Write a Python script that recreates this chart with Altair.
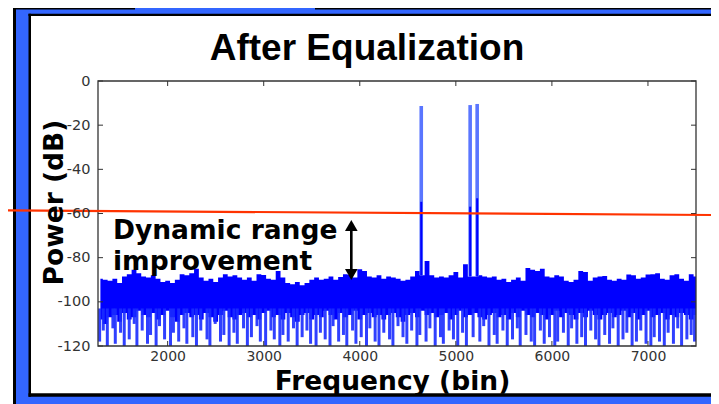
import altair as alt
import pandas as pd

# ---------------- data ----------------
noise_bin = [1300, 1350, 1400, 1450, 1500, 1550, 1600, 1650, 1700, 1750,
             1800, 1850, 1900, 1950, 2000, 2050, 2100, 2150, 2200, 2250,
             2300, 2350, 2400, 2450, 2500, 2550, 2600, 2650, 2700, 2750,
             2800, 2850, 2900, 2950, 3000, 3050, 3100, 3150, 3200, 3250,
             3300, 3350, 3400, 3450, 3500, 3550, 3600, 3650, 3700, 3750,
             3800, 3850, 3900, 3950, 4000, 4050, 4100, 4150, 4200, 4250,
             4300, 4350, 4400, 4450, 4500, 4550, 4600, 4650, 4700, 4750,
             4800, 4850, 4900, 4950, 5000, 5050, 5100, 5150, 5200, 5250,
             5300, 5350, 5400, 5450, 5500, 5550, 5600, 5650, 5700, 5750,
             5800, 5850, 5900, 5950, 6000, 6050, 6100, 6150, 6200, 6250,
             6300, 6350, 6400, 6450, 6500, 6550, 6600, 6650, 6700, 6750,
             6800, 6850, 6900, 6950, 7000, 7050, 7100, 7150, 7200, 7250,
             7300, 7350, 7400, 7450, 7500]
noise_top = [-89.5, -90, -90.5, -89.5, -91.5, -88.5, -87.5, -85.5, -87, -88.5,
             -89, -88, -89.5, -91, -90.5, -91.5, -90, -87.5, -88, -87,
             -85, -89, -90.5, -89.5, -91, -89, -87.5, -88.5, -88, -89,
             -90, -89, -90.5, -87.5, -87.8, -89.5, -90, -86, -89, -91.5,
             -92, -91, -92.5, -91.5, -90, -89, -90, -89.5, -88.5, -90,
             -88.8, -87.5, -87.8, -89, -85.3, -86, -88.5, -89, -88, -89.5,
             -88.5, -89, -89.5, -90.5, -90, -88.5, -86, -88, -81.5, -88,
             -89, -88.5, -89, -88, -86.5, -89, -83, -88.5, -88.5, -88,
             -88.5, -89, -88.5, -90, -89.5, -91, -90, -89, -90.5, -84.7,
             -85.5, -86, -85, -88.5, -89, -88, -88.5, -90.5, -91, -90,
             -86, -86.5, -90.5, -89, -88.5, -88.3, -90, -90.5, -89.5, -90,
             -87.6, -88, -89.5, -89, -87.6, -87.5, -87, -89.5, -90, -88,
             -87.5, -89.5, -90.5, -87.5, -88.5]
noise_low = [-108, -110, -107, -106, -109, -105, -108, -107, -104, -106,
             -107, -105, -108, -106, -104, -107, -109, -106, -105, -107,
             -106, -108, -105, -107, -109, -106, -104, -107, -108, -106,
             -105, -107, -106, -108, -105, -104, -107, -106, -108, -105,
             -107, -109, -106, -105, -108, -106, -107, -104, -106, -108,
             -105, -107, -106, -104, -108, -106, -105, -107, -106, -108,
             -106, -105, -107, -109, -106, -105, -107, -104, -106, -105,
             -107, -106, -105, -108, -106, -104, -107, -106, -105, -107,
             -108, -106, -105, -107, -106, -108, -105, -107, -104, -106,
             -107, -105, -106, -108, -106, -104, -107, -105, -106, -108,
             -105, -107, -104, -106, -108, -106, -105, -107, -106, -104,
             -107, -105, -108, -106, -104, -107, -106, -105, -108, -106,
             -107, -105, -106, -108, -106]
spike_bin = [1292, 1330, 1372, 1430, 1455, 1510, 1548, 1600, 1652, 1680,
             1735, 1790, 1822, 1880, 1915, 1968, 2030, 2060, 2115, 2170,
             2200, 2262, 2300, 2345, 2410, 2440, 2495, 2550, 2585, 2640,
             2690, 2725, 2790, 2830, 2872, 2930, 2965, 3020, 3075, 3110,
             3168, 3200, 3255, 3310, 3348, 3400, 3450, 3488, 3545, 3590,
             3640, 3690, 3722, 3780, 3830, 3865, 3925, 3960, 4015, 4070,
             4105, 4160, 4200, 4250, 4310, 4345, 4398, 4450, 4490, 4540,
             4595, 4625, 4690, 4730, 4785, 4840, 4870, 4930, 4975, 5020,
             5070, 5110, 5180, 5250, 5290, 5345, 5400, 5430, 5490, 5535,
             5590, 5640, 5670, 5730, 5785, 5820, 5880, 5920, 5975, 6030,
             6060, 6120, 6170, 6205, 6260, 6310, 6350, 6405, 6455, 6490,
             6550, 6600, 6635, 6690, 6740, 6780, 6835, 6880, 6925, 6980,
             7030, 7065, 7120, 7170, 7210, 7265, 7310, 7350, 7405, 7450,
             7485]
spike_min = [-118, -113, -120, -112, -119, -114, -120, -117, -110, -120,
             -113, -119, -115, -120, -111, -117, -120, -114, -118, -112,
             -119, -116, -120, -113, -117, -120, -110, -118, -115, -120,
             -114, -119, -112, -120, -116, -111, -118, -120, -113, -117,
             -120, -115, -118, -112, -120, -116, -113, -119, -120, -114,
             -117, -120, -111, -118, -115, -120, -113, -119, -116, -120,
             -112, -118, -120, -114, -117, -120, -111, -116, -119, -113,
             -120, -115, -118, -112, -120, -116, -119, -113, -117, -120,
             -114, -120, -116, -118, -111, -120, -115, -119, -113, -120,
             -117, -112, -120, -115, -118, -120, -113, -119, -116, -120,
             -118, -114, -120, -112, -119, -116, -120, -113, -117, -120,
             -115, -119, -112, -120, -117, -114, -120, -118, -113, -119,
             -120, -116, -118, -120, -114, -119, -112, -120, -117, -115,
             -118]
spike_from = -103

peak_bin = [4640, 5149, 5222]
peak_top = [-11.3, -10.9, -10.4]
peak_mid = [-54.7, -56.9, -53.1]
peak_base = [-88, -88.5, -88.5]

x_ticks = [2000, 3000, 4000, 5000, 6000, 7000]
y_ticks = [0, -20, -40, -60, -80, -100, -120]

threshold_db = [-58.6, -60.7]          # red reference line (left end, right end)

annot_text = ["Dynamic range", "improvement"]
annot_bin = [1431, 1431]
annot_db = [-71.5, -85.6]

arrow_bin = [3912]
arrow_shaft = [-66, -87]
arrow_head_db = [-65.4, -87.6]

title_text = "After Equalization"
x_title = "Frequency (bin)"
y_title = "Power (dB)"

# ---------------- layout / style ----------------
W, H = 598, 265
PAD = {"left": 90, "top": 73, "right": 15, "bottom": 58}
RIGHT = W + PAD["right"] + 5
BOTTOM = H + PAD["bottom"] + 5
BLUE = "#3366ff"
LINE_BLUE = "#0000ff"
GRAY = "#333333"

xscale = alt.Scale(domain=[1275, 7500], nice=False, zero=False)
yscale = alt.Scale(domain=[-120, 0], nice=False, zero=False)

num_expr = "datum.value < 0 ? '-' + format(-datum.value, 'd') : format(datum.value, 'd')"

xaxis = alt.Axis(values=x_ticks, ticks=False, grid=False, domain=False, zindex=1,
                 labelExpr=num_expr,
                 labelFont="DejaVu Sans", labelFontSize=14, labelColor=GRAY,
                 labelPadding=3, labelFlush=False, labelOverlap=False,
                 title=x_title, titleFont="DejaVu Sans", titleFontSize=26.5,
                 titleFontWeight="bold", titleColor="black", titleX=294, titleY=43,
                 titleAlign="center", titleBaseline="alphabetic")
yaxis = alt.Axis(values=y_ticks, ticks=False, grid=False, domain=False, zindex=1,
                 labelExpr=num_expr,
                 labelFont="DejaVu Sans", labelFontSize=14.5, labelColor=GRAY,
                 labelPadding=8, labelFlush=False, labelOverlap=False,
                 title=y_title, titleFont="DejaVu Sans", titleFontSize=26.5,
                 titleFontWeight="bold", titleColor="black", titleAngle=270,
                 titleX=-36, titleY=121, titleAlign="center", titleBaseline="alphabetic")


def X(f):
    return alt.X(f, type="quantitative", scale=xscale, axis=xaxis)


def Y(f):
    return alt.Y(f, type="quantitative", scale=yscale, axis=yaxis)


one = pd.DataFrame({"k": [0]})


def block(x1, x2, y1, y2, color):
    return alt.Chart(one).mark_rect(fill=color).encode(
        x=alt.value(x1), x2=alt.value(x2), y=alt.value(y1), y2=alt.value(y2))


# frame (slide decoration): blue bands with black edges, white panel
frame = [
    block(-85, RIGHT, -73, -66, BLUE),             # top band
    block(-85, RIGHT, 314, BOTTOM, BLUE),          # bottom band
    block(-85, -68, -73, BOTTOM, BLUE),            # left band
    block(-85, -82, -73, BOTTOM, "black"),         # outer left edge
    block(-85, 37, -73, -71.5, "black"),           # outer top edge (left of tab)
    block(217, RIGHT, -73, -71.5, "black"),        # outer top edge (right of tab)
    block(-69.5, -67, -67.3, 315.7, "black"),      # inner left edge
    block(-69.5, RIGHT, -67.3, -65, "black"),      # inner top edge
    block(-69.5, RIGHT, 312.3, 315.7, "black"),    # inner bottom edge
]

# spectrum
noise_df = pd.DataFrame({"bin": noise_bin, "top": noise_top, "low": noise_low})
noise = alt.Chart(noise_df).mark_area(interpolate="step", color=LINE_BLUE, clip=True).encode(
    x=X("bin"), y=Y("top"), y2=alt.Y2("low"))

spike_df = pd.DataFrame({"bin": spike_bin, "mn": spike_min})
spike_df["from"] = spike_from
spikes = alt.Chart(spike_df).mark_rule(color="#1a2bff", strokeWidth=3, opacity=0.9, clip=True).encode(
    x=X("bin"), y=Y("from"), y2=alt.Y2("mn"))

peak_df = pd.DataFrame({"bin": peak_bin, "top": peak_top, "mid": peak_mid, "base": peak_base})
peaks_light = alt.Chart(peak_df).mark_rule(color="#5a76ff", strokeWidth=3.6).encode(
    x=X("bin"), y=Y("top"), y2=alt.Y2("base"))
peaks_dark = alt.Chart(peak_df).mark_rule(color=LINE_BLUE, strokeWidth=2).encode(
    x=X("bin"), y=Y("mid"), y2=alt.Y2("base"))

# inside ticks and box (MATLAB style)
xt_df = pd.DataFrame({"v": x_ticks})
yt_df = pd.DataFrame({"v": y_ticks})
tick_style = dict(color=GRAY, strokeWidth=1)
xt_bottom = alt.Chart(xt_df).mark_rule(**tick_style).encode(
    x=X("v"), y=alt.value(H), y2=alt.value(H - 5))
xt_top = alt.Chart(xt_df).mark_rule(**tick_style).encode(
    x=X("v"), y=alt.value(0), y2=alt.value(5))
yt_left = alt.Chart(yt_df).mark_rule(**tick_style).encode(
    y=Y("v"), x=alt.value(0), x2=alt.value(5))
yt_right = alt.Chart(yt_df).mark_rule(**tick_style).encode(
    y=Y("v"), x=alt.value(W), x2=alt.value(W - 5))
box = alt.Chart(one).mark_rect(fillOpacity=0, stroke=GRAY, strokeWidth=1.3).encode(
    x=alt.value(0), x2=alt.value(W), y=alt.value(0), y2=alt.value(H))

# texts
title = alt.Chart(one).mark_text(text=title_text, font="Liberation Sans", fontWeight="bold",
                                 fontSize=37, align="center", baseline="alphabetic",
                                 color="black").encode(x=alt.value(269), y=alt.value(-21.5))

annot_df = pd.DataFrame({"bin": annot_bin, "db": annot_db, "label": annot_text})
annot = alt.Chart(annot_df).mark_text(font="DejaVu Sans", fontWeight="bold", fontSize=26.5,
                                      align="left", baseline="alphabetic", color="black").encode(
    x=X("bin"), y=Y("db"), text="label:N")

arrow_df = pd.DataFrame({"bin": arrow_bin, "a": [arrow_shaft[0]], "b": [arrow_shaft[1]],
                         "h1": [arrow_head_db[0]], "h2": [arrow_head_db[1]]})
shaft = alt.Chart(arrow_df).mark_rule(color="black", strokeWidth=2.6).encode(
    x=X("bin"), y=Y("a"), y2=alt.Y2("b"))
head_up = alt.Chart(arrow_df).mark_point(shape="triangle-up", filled=True, size=160,
                                         color="black", opacity=1).encode(x=X("bin"), y=Y("h1"))
head_down = alt.Chart(arrow_df).mark_point(shape="triangle-down", filled=True, size=160,
                                           color="black", opacity=1).encode(x=X("bin"), y=Y("h2"))

red_df = pd.DataFrame({"a": [threshold_db[0]], "b": [threshold_db[1]]})
red = alt.Chart(red_df).mark_rule(color="#ff3300", strokeWidth=2.2).encode(
    x=alt.value(-90), x2=alt.value(RIGHT), y=Y("a"), y2=alt.Y2("b"))

chart = alt.layer(
    *frame,
    noise, spikes, peaks_light, peaks_dark,
    xt_bottom, xt_top, yt_left, yt_right, box,
    title, annot, shaft, head_up, head_down, red,
).properties(
    width=W, height=H,
    padding=PAD,
    autosize=alt.AutoSizeParams(type="none"),
    background="white",
).configure_view(stroke="transparent")

chart.save("out.html", embed_options={"renderer": "svg", "actions": False})
